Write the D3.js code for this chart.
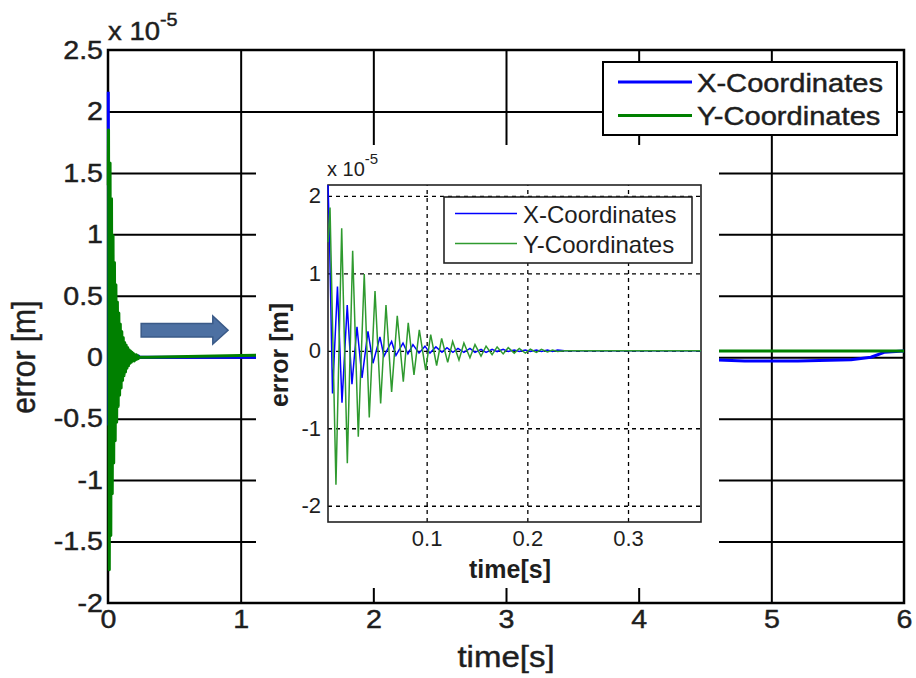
<!DOCTYPE html>
<html>
<head>
<meta charset="utf-8">
<title>Tracking error</title>
<script src="https://d3js.org/d3.v7.min.js"></script>
<style>
    body { margin: 0; background: #fff; }
    svg text { font-family: Arial, 'Liberation Sans', sans-serif; fill: #1e1e1e; }
    svg text.heavy { stroke: #1e1e1e; stroke-width: 0.45px; }
    .grid-main line { stroke: #000; stroke-width: 2px; }
    .grid-main path, .grid-inset path { display: none; }
    .grid-inset line { stroke: #000; stroke-width: 1.3px; stroke-dasharray: 4,4; }
    .ticks path, .ticks line { display: none; }
</style>
</head>
<body>
<div id="chart"></div>
<script>
    // error values are in units of 1e-5 m
    const seriesNames = ["X-Coordinates", "Y-Coordinates"];

    // X-coordinate error, peaks
    const xTime = [0.002, 0.0035, 0.0065, 0.0114, 0.0159, 0.0211, 0.0258, 0.0308, 0.0358, 0.0417,
        0.0467, 0.0536, 0.0576, 0.0652, 0.0695, 0.0765, 0.0814, 0.0864, 0.0924, 0.0983,
        0.1033, 0.1092, 0.1152, 0.1202, 0.1261, 0.1311, 0.137, 0.143, 0.148, 0.154,
        0.159, 0.165, 0.17, 0.176, 0.181, 0.187, 0.192, 0.198, 0.203, 0.209,
        0.214, 0.22, 0.225, 0.23, 0.237];
    const xErr = [2.16, 1.45, -0.55, 0.83, -0.67, 0.59, -0.43, 0.31, -0.35, 0.25,
        -0.16, 0.18, -0.07, 0.12, -0.06, 0.10, -0.04, 0.08, -0.03, 0.06,
        -0.03, 0.05, -0.02, 0.04, -0.02, 0.03, -0.02, 0.03, -0.02, 0.02,
        -0.02, 0.02, -0.01, 0.02, -0.01, 0.01, -0.01, 0.01, -0.01, 0.01,
        -0.01, 0.01, -0.01, 0.01, 0];

    // Y-coordinate error
    const yTime = [0.002, 0.004, 0.0099, 0.0156, 0.0212, 0.0265, 0.0321, 0.038, 0.043, 0.0487,
        0.0543, 0.0596, 0.0652, 0.0708, 0.0768, 0.0817, 0.0874, 0.0927, 0.099, 0.104,
        0.1099, 0.1149, 0.1209, 0.1258, 0.1321, 0.137, 0.143, 0.148, 0.154, 0.159,
        0.165, 0.17, 0.176, 0.181, 0.187, 0.192, 0.198, 0.203, 0.209, 0.214,
        0.22, 0.225, 0.23, 0.237];
    const yErr = [1.4, 1.85, -1.73, 1.58, -1.45, 1.29, -1.11, 0.99, -0.86, 0.77,
        -0.68, 0.59, -0.53, 0.45, -0.40, 0.36, -0.31, 0.27, -0.25, 0.21,
        -0.19, 0.16, -0.15, 0.12, -0.12, 0.10, -0.09, 0.08, -0.07, 0.06,
        -0.05, 0.05, -0.04, 0.04, -0.03, 0.03, -0.03, 0.02, -0.02, 0.02,
        -0.015, 0.01, -0.01, 0];

    // slow drift after the transient (main plot)
    const tailTime = [0.3, 1.0, 2.0, 3.0, 4.0, 4.55, 4.8, 5.2, 5.6, 5.75, 5.85, 6.0];
    const tailX = [0, 0, 0, -0.01, -0.02, -0.02, -0.03, -0.03, -0.02, 0, 0.04, 0.05];
    const tailY = [0, 0.015, 0.03, 0.04, 0.05, 0.05, 0.05, 0.05, 0.05, 0.05, 0.05, 0.05];

    const mainXTicks = [0, 1, 2, 3, 4, 5, 6];
    const mainYTicks = [-2, -1.5, -1, -0.5, 0, 0.5, 1, 1.5, 2, 2.5];
    const insetXTicks = [0.1, 0.2, 0.3];
    const insetYTicks = [-2, -1, 0, 1, 2];

    const colors = ["#0000ff", "#008000"];
    const insetColors = ["#0000ff", "#2f9a2f"];
    const sx = 1.1; // main figure text is a little wider than tall
    const plain = d => String(d); // hyphen minus, like the original

    const svg = d3.select("#chart").append("svg")
        .attr("width", 916)
        .attr("height", 678);
    const defs = svg.append("defs");

    // ---------- main plot ----------
    const x = d3.scaleLinear().domain([0, 6]).range([108, 904]);
    const y = d3.scaleLinear().domain([-2, 2.5]).range([603, 50]);
    const pw = x(6) - x(0), ph = y(-2) - y(2.5);

    defs.append("clipPath").attr("id", "clipMain")
        .append("rect").attr("x", x(0) - 3).attr("y", y(2.5)).attr("width", pw + 3).attr("height", ph);

    svg.append("g").attr("class", "grid-main")
        .attr("transform", `translate(0,${y(-2)})`)
        .call(d3.axisBottom(x).tickValues(mainXTicks.slice(1, -1)).tickSize(-ph).tickFormat(""));
    svg.append("g").attr("class", "grid-main")
        .attr("transform", `translate(${x(0)},0)`)
        .call(d3.axisLeft(y).tickValues(mainYTicks.slice(1, -1)).tickSize(-pw).tickFormat(""));

    svg.append("rect")
        .attr("x", x(0)).attr("y", y(2.5)).attr("width", pw).attr("height", ph)
        .attr("fill", "none").attr("stroke", "#000").attr("stroke-width", 2.5);

    const mainX = d3.zip(xTime.concat(tailTime), xErr.concat(tailX));
    const mainY = d3.zip(yTime.concat(tailTime), yErr.concat(tailY));
    const lineMain = d3.line().x(d => x(d[0])).y(d => y(d[1]));

    const gm = svg.append("g").attr("clip-path", "url(#clipMain)");
    [mainX, mainY].forEach((s, i) => {
        gm.append("path").datum(s)
            .attr("d", lineMain)
            .attr("fill", "none")
            .attr("stroke", colors[i])
            .attr("stroke-width", 3)
            .attr("stroke-linejoin", "round");
    });

    // tick labels
    svg.append("g").attr("class", "ticks")
        .attr("transform", `translate(${x(0)},0)`)
        .call(d3.axisLeft(y).tickValues(mainYTicks).tickSize(0).tickPadding(5).tickFormat(plain))
        .selectAll("text")
        .attr("class", "heavy")
        .style("font-size", "26px")
        .attr("x", -5 / sx)
        .attr("transform", `scale(${sx},1)`);
    svg.append("g").attr("class", "ticks")
        .attr("transform", `translate(0,${y(-2)})`)
        .call(d3.axisBottom(x).tickValues(mainXTicks).tickSize(0).tickPadding(7).tickFormat(plain))
        .selectAll("text")
        .attr("class", "heavy")
        .style("font-size", "26px")
        .attr("transform", `scale(${sx},1)`);

    // exponent
    const expMain = svg.append("text").attr("class", "heavy")
        .attr("transform", `translate(108,40) scale(${sx},1)`)
        .style("font-size", "25px");
    expMain.append("tspan").text("x 10");
    expMain.append("tspan").attr("dy", -14).style("font-size", "18px").text("-5");

    svg.append("text").attr("class", "heavy")
        .attr("transform", `translate(${(x(0) + x(6)) / 2},667) scale(${sx},1)`)
        .attr("text-anchor", "middle")
        .style("font-size", "30px")
        .text("time[s]");
    svg.append("text").attr("class", "heavy")
        .attr("transform", `translate(35,${y(0)}) scale(${sx},1) rotate(-90)`)
        .attr("text-anchor", "middle")
        .style("font-size", "30px")
        .text("error [m]");

    // legend
    const lg = svg.append("g").attr("transform", "translate(603,62)");
    lg.append("rect").attr("width", 294).attr("height", 73)
        .attr("fill", "#fff").attr("stroke", "#000").attr("stroke-width", 2);
    seriesNames.forEach((n, i) => {
        const yy = 20 + i * 33.5;
        lg.append("line").attr("x1", 15).attr("x2", 89).attr("y1", yy).attr("y2", yy)
            .attr("stroke", colors[i]).attr("stroke-width", 3);
        lg.append("text").attr("class", "heavy")
            .attr("transform", `translate(94,${yy + 9.5}) scale(1.12,1)`)
            .style("font-size", "26px")
            .text(n);
    });

    // arrow pointing at the zoomed view
    const arrowPts = [[0.25, 0.275], [0.79, 0.275], [0.79, 0.335], [0.905, 0.22],
        [0.79, 0.107], [0.79, 0.165], [0.25, 0.165]];
    svg.append("polygon")
        .attr("points", arrowPts.map(p => [x(p[0]), y(p[1])].join(",")).join(" "))
        .attr("fill", "#4d70a2")
        .attr("stroke", "#3a5a88")
        .attr("stroke-width", 1.5);

    // ---------- inset (zoom of the first 0.37 s) ----------
    svg.append("rect")
        .attr("x", 256).attr("y", 145).attr("width", 463).attr("height", 443)
        .attr("fill", "#fff");

    const xi = d3.scaleLinear().domain([0.002, 0.3725]).range([328, 701]);
    const yi = d3.scaleLinear().domain([-2.21, 2.14]).range([522, 185]);
    const iw = 701 - 328, ih = 522 - 185;

    defs.append("clipPath").attr("id", "clipInset")
        .append("rect").attr("x", 327).attr("y", 185).attr("width", iw + 1).attr("height", ih);

    svg.append("g").attr("class", "grid-inset")
        .attr("transform", "translate(0,522)")
        .call(d3.axisBottom(xi).tickValues(insetXTicks).tickSize(-ih).tickFormat(""));
    svg.append("g").attr("class", "grid-inset")
        .attr("transform", "translate(328,0)")
        .call(d3.axisLeft(yi).tickValues(insetYTicks).tickSize(-iw).tickFormat(""));

    svg.append("rect")
        .attr("x", 328).attr("y", 185).attr("width", iw).attr("height", ih)
        .attr("fill", "none").attr("stroke", "#222").attr("stroke-width", 1.6);

    const lineInset = d3.line().x(d => xi(d[0])).y(d => yi(d[1]));
    const gi = svg.append("g").attr("clip-path", "url(#clipInset)");
    [mainX, mainY].forEach((s, i) => {
        gi.append("path").datum(s)
            .attr("d", lineInset)
            .attr("fill", "none")
            .attr("stroke", insetColors[i])
            .attr("stroke-width", 1.5);
    });

    svg.append("g").attr("class", "ticks")
        .attr("transform", "translate(328,0)")
        .call(d3.axisLeft(yi).tickValues(insetYTicks).tickSize(0).tickPadding(7).tickFormat(plain))
        .selectAll("text").style("font-size", "22px");
    svg.append("g").attr("class", "ticks")
        .attr("transform", "translate(0,522)")
        .call(d3.axisBottom(xi).tickValues(insetXTicks).tickSize(0).tickPadding(8).tickFormat(plain))
        .selectAll("text").style("font-size", "22px");

    const expIn = svg.append("text")
        .attr("x", 327).attr("y", 176)
        .style("font-size", "20px");
    expIn.append("tspan").text("x 10");
    expIn.append("tspan").attr("dy", -12).style("font-size", "15px").text("-5");

    svg.append("text")
        .attr("x", 510).attr("y", 578)
        .attr("text-anchor", "middle")
        .style("font-size", "25px").style("font-weight", "bold")
        .text("time[s]");
    svg.append("text")
        .attr("transform", "translate(288,355) rotate(-90)")
        .attr("text-anchor", "middle")
        .style("font-size", "25px").style("font-weight", "bold")
        .text("error [m]");

    const li = svg.append("g").attr("transform", "translate(444,197)");
    li.append("rect").attr("width", 248).attr("height", 66)
        .attr("fill", "#fff").attr("stroke", "#222").attr("stroke-width", 1.6);
    seriesNames.forEach((n, i) => {
        const yy = 16.5 + i * 30;
        li.append("line").attr("x1", 11).attr("x2", 73).attr("y1", yy).attr("y2", yy)
            .attr("stroke", insetColors[i]).attr("stroke-width", 1.5);
        li.append("text")
            .attr("x", 79).attr("y", yy + 9)
            .style("font-size", "24px")
            .text(n);
    });
</script>
</body>
</html>
